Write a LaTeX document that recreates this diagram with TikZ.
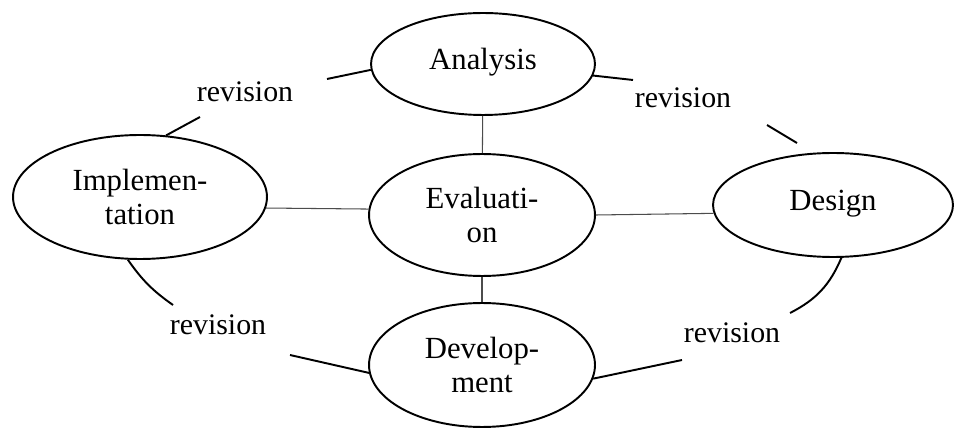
\documentclass[tikz,border=0pt]{standalone}
\usepackage{fontspec}
\setmainfont{Liberation Serif}
\usetikzlibrary{shapes.geometric}
\begin{document}
\begin{tikzpicture}[x=0.02cm,y=-0.02cm,
		phase/.style={ellipse,draw,line width=1.1pt,inner sep=0pt,align=center,font=\fontsize{17.5}{19.6}\selectfont},
		link/.style={draw=black!70,line width=0.6pt},
		stub/.style={line width=1.1pt},
		rev/.style={font=\fontsize{17}{19.6}\selectfont}]
			\useasboundingbox (0,0) rectangle (955,428);
			% phases
			\node[phase,minimum width=4.48cm,minimum height=2.04cm] (ana) at (483,64) {\raisebox{0.2cm}{Analysis}};
			\node[phase,minimum width=4.52cm,minimum height=2.44cm] (eva) at (482,215) {Evaluati-\\on};
			\node[phase,minimum width=5.08cm,minimum height=2.48cm] (imp) at (140,197) {Implemen-\\tation};
			\node[phase,minimum width=4.8cm,minimum height=2.08cm] (des) at (833,205) {\raisebox{0.2cm}{Design}};
			\node[phase,minimum width=4.52cm,minimum height=2.48cm] (dev) at (482,365) {Develop-\\ment};
			% thin links to the centre
			\draw[link] (ana) -- (eva);
			\draw[link] (eva) -- (dev);
			\draw[link] (imp.-5) -- (eva.177);
			\draw[link] (eva.east) -- (des.184);
			% revision labels
			\node[rev] (revA) at (245,92) {revision};
			\node[rev] (revB) at (683,98) {revision};
			\node[rev] (revC) at (218,325) {revision};
			\node[rev] (revD) at (732,333) {revision};
			% loose ends of the revision cycle
			\coordinate (a1) at (327,79);
			\coordinate (a2) at (633,80);
			\coordinate (i1) at (200,117);
			\coordinate (d1) at (767,125);
			\coordinate (d2) at (797,143);
			\coordinate (i2) at (173,305);
			\coordinate (m1) at (290,355);
			\coordinate (d3) at (790,313);
			\coordinate (m2) at (682,360);
			\draw[stub] (ana.183) -- (a1);
			\draw[stub] (ana.-6) -- (a2);
			\draw[stub] (imp.67) -- (i1);
			\draw[stub] (d1) -- (d2);
			\draw[stub] (imp.-101) to[bend right=10] (i2);
			\draw[stub] (dev.184) -- (m1);
			\draw[stub] (des.-81) to[bend left=20] (d3);
			\draw[stub] (dev.-7) -- (m2);
		\end{tikzpicture}
\end{document}
